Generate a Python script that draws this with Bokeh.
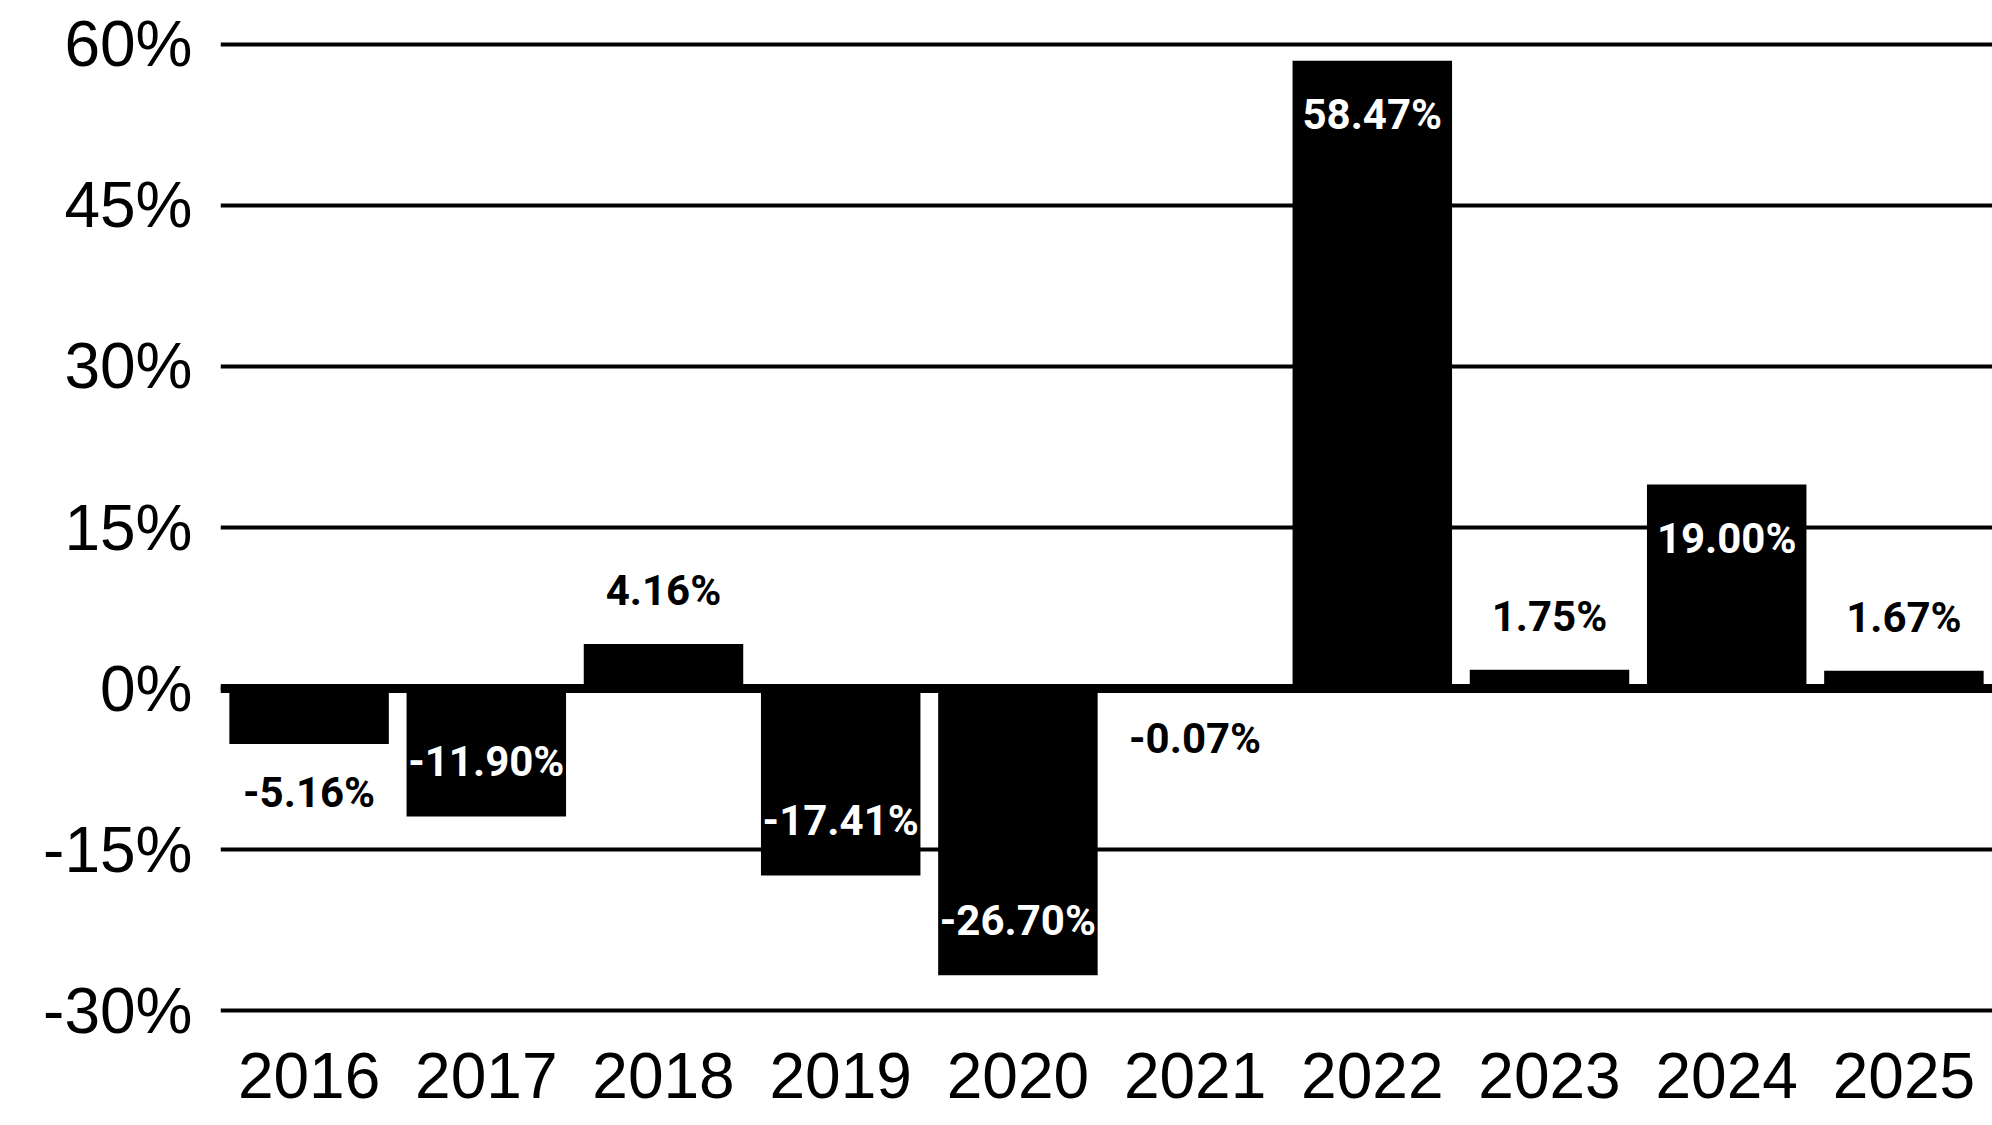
from bokeh.plotting import figure
from bokeh.models import (ColumnDataSource, Range1d, FixedTicker,
                          PrintfTickFormatter, Span, LabelSet)
from bokeh.core.properties import value
from bokeh.embed import file_html
from bokeh.resources import INLINE

# ---- data ----
years = ["2016", "2017", "2018", "2019", "2020", "2021", "2022", "2023", "2024", "2025"]
returns = [-5.16, -11.90, 4.16, -17.41, -26.70, -0.07, 58.47, 1.75, 19.00, 1.67]
y_ticks = [-30, -15, 0, 15, 30, 45, 60]

LABEL_SIZE = 42
HALF_CAP = 0.711 * LABEL_SIZE / 2

# ---- label placement rule (inside big bars, outside small ones) ----
labels, offsets, colors = [], [], []
for v in returns:
    inside = abs(v) >= 10
    labels.append(f"{v:.2f}%")
    colors.append("white" if inside else "black")
    if v >= 0:
        offsets.append(-(53.5 + HALF_CAP) if inside else (53.5 - HALF_CAP))
    else:
        offsets.append((55.5 - HALF_CAP) if inside else -(48.5 + HALF_CAP))

src = ColumnDataSource(dict(year=years, ret=returns, label=labels,
                            off=offsets, color=colors))

p = figure(x_range=years, y_range=Range1d(-31, 61),
           frame_width=1772, frame_height=988,
           min_border_left=220, min_border_right=0,
           min_border_top=33, min_border_bottom=100,
           output_backend="svg", toolbar_location=None)

p.outline_line_color = None
p.background_fill_color = "white"
p.border_fill_color = "white"

p.vbar(x="year", top="ret", width=0.9, source=src,
       fill_color="black", line_color=None)

p.add_layout(Span(location=0, dimension="width", line_color="black",
                  line_width=9))

p.add_layout(LabelSet(x="year", y="ret", text="label", source=src,
                      text_align="center", text_baseline="alphabetic",
                      y_offset="off", text_color="color",
                      text_font=value("Roboto"),
                      text_font_style="bold", text_font_size=f"{LABEL_SIZE}px"))

# axes
for ax in (p.xaxis[0], p.yaxis[0]):
    ax.axis_line_color = None
    ax.major_tick_line_color = None
    ax.minor_tick_line_color = None
    ax.major_tick_out = 0
    ax.major_tick_in = 0
    ax.major_label_text_font = "Liberation Sans"
    ax.major_label_text_font_size = "64px"
    ax.major_label_text_color = "black"

p.xaxis.major_label_standoff = 31
p.yaxis.major_label_standoff = 28
p.yaxis.ticker = FixedTicker(ticks=y_ticks)
p.yaxis.formatter = PrintfTickFormatter(format="%d%%")

p.xgrid.grid_line_color = None
p.ygrid.grid_line_color = "black"
p.ygrid.grid_line_width = 4
p.ygrid.ticker = FixedTicker(ticks=y_ticks)

open("out.html", "w").write(file_html(p, INLINE))
